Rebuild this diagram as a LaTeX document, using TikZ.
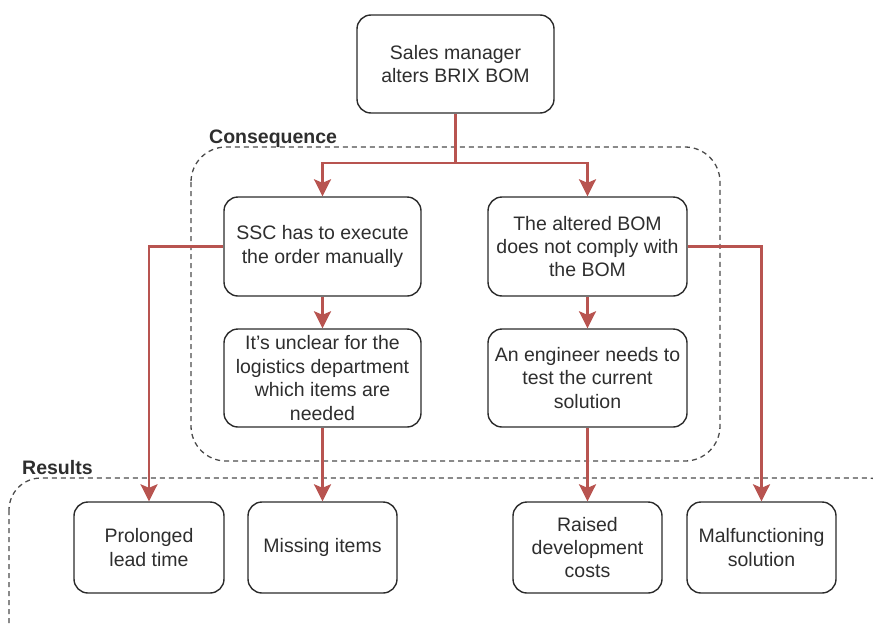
\documentclass[tikz,border=0pt]{standalone}
\usepackage{fontspec}
\setmainfont{Liberation Sans}
\usetikzlibrary{arrows.meta}
\definecolor{flowred}{HTML}{B85450}
\definecolor{edge}{HTML}{2B2B2B}
\definecolor{txt}{HTML}{2E2E2E}
\begin{document}
\begin{tikzpicture}[x=1pt,y=-1pt,
  box/.style={draw=edge, line width=1.4pt, rounded corners=14pt, fill=white,
    align=center, text=txt, inner sep=2pt,
    font=\fontsize{19.5}{23.4}\selectfont},
  flow/.style={draw=flowred, line width=2.6pt,
    -{Stealth[length=17pt,width=17pt,inset=3.5pt]}},
  plain/.style={draw=flowred, line width=2.6pt},
  group/.style={draw=edge!85, line width=1.3pt, dash pattern=on 5pt off 4pt},
  grouplabel/.style={anchor=base west, inner sep=0pt, text=txt,
    font=\fontsize{19.5}{23.4}\selectfont\bfseries}]
  \useasboundingbox (0,0) rectangle (873,624);
  \clip (0,0) rectangle (873,624);

  % dashed groups
  \draw[group, rounded corners=35pt] (191,147) rectangle (720,461);
  \draw[group, rounded corners=32pt] (9,478) rectangle (900,660);
  \node[grouplabel] (conslbl) at (209,143) {Consequence};
  \node[grouplabel] (reslbl) at (22,474) {Results};

  % steps
  \node[box, minimum width=197pt, minimum height=98pt] (top) at (455.5,64) {Sales manager\\alters BRIX BOM};
  \node[box, minimum width=197pt, minimum height=99pt] (ssc) at (322.5,246.5) {SSC has to execute\\the order manually};
  \node[box, minimum width=199pt, minimum height=99pt] (alt) at (587.5,246.5) {The altered BOM\\does not comply with\\the BOM};
  \node[box, minimum width=197pt, minimum height=98pt] (unclear) at (322.5,378) {It's unclear for the\\logistics department\\which items are\\needed};
  \node[box, minimum width=199pt, minimum height=98pt] (eng) at (587.5,378) {An engineer needs to\\test the current\\solution};

  % results
  \node[box, minimum width=150pt, minimum height=91pt] (prol) at (149,547.5) {Prolonged\\lead time};
  \node[box, minimum width=149pt, minimum height=91pt] (miss) at (322.5,547.5) {Missing items};
  \node[box, minimum width=149pt, minimum height=91pt] (raised) at (587.5,547.5) {Raised\\development\\costs};
  \node[box, minimum width=149pt, minimum height=91pt] (malf) at (761.5,547.5) {Malfunctioning\\solution};

  % connectors
  \coordinate (split) at (455.5,163);
  \draw[plain] (top.south) -- (split);
  \draw[flow] (split) -| (ssc.north);
  \draw[flow] (split) -| (alt.north);
  \draw[flow] (ssc.west) -| (prol.north);
  \draw[flow] (ssc.south) -- (unclear.north);
  \draw[flow] (unclear.south) -- (miss.north);
  \draw[flow] (alt.east) -| (malf.north);
  \draw[flow] (alt.south) -- (eng.north);
  \draw[flow] (eng.south) -- (raised.north);
\end{tikzpicture}
\end{document}
